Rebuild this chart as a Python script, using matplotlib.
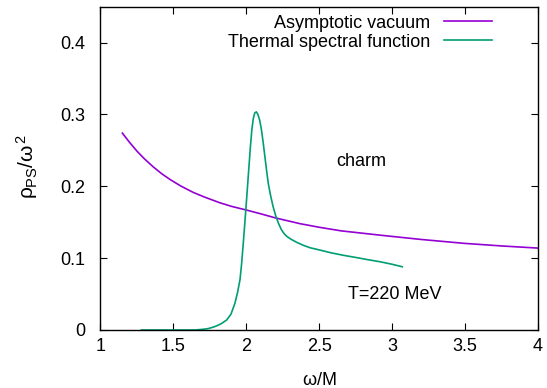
import matplotlib.pyplot as plt
import numpy as np

plt.rcParams['font.family'] = ['Liberation Sans', 'DejaVu Sans']
plt.rcParams['mathtext.fontset'] = 'custom'
plt.rcParams['mathtext.rm'] = 'Liberation Sans'
plt.rcParams['mathtext.it'] = 'Liberation Sans'

# asymptotic vacuum curve
vac_w = [1.15, 1.2, 1.25, 1.3, 1.362, 1.42, 1.477, 1.55, 1.636, 1.72, 1.82, 1.9, 2.0,
         2.094, 2.2, 2.368, 2.5, 2.65, 2.917, 3.2, 3.5, 3.75, 4.0]
vac_rho = [0.274, 0.261, 0.249, 0.2385, 0.227, 0.2175, 0.2095, 0.2005, 0.1915, 0.1845,
           0.177, 0.172, 0.167, 0.162, 0.156, 0.148, 0.143, 0.138, 0.132, 0.126, 0.1205,
           0.117, 0.114]

# thermal spectral function, T = 220 MeV
th_w = [1.28, 1.5, 1.65, 1.705, 1.74, 1.774, 1.80, 1.83, 1.866, 1.895, 1.922, 1.94,
        1.957, 1.968, 1.978, 1.988, 1.998, 2.008, 2.018, 2.028, 2.038, 2.048, 2.058,
        2.069, 2.08, 2.092, 2.104, 2.116, 2.128, 2.14, 2.151, 2.168, 2.185, 2.202,
        2.22, 2.24, 2.26, 2.28, 2.31, 2.346, 2.39, 2.437, 2.5, 2.58, 2.665, 2.75,
        2.83, 2.917, 3.0, 3.07]
th_rho = [0.0, 0.0, 0.0, 0.001, 0.002, 0.004, 0.006, 0.009, 0.014, 0.022, 0.037, 0.052,
          0.070, 0.092, 0.117, 0.143, 0.170, 0.198, 0.226, 0.254, 0.278, 0.294, 0.302,
          0.3036, 0.300, 0.292, 0.279, 0.261, 0.241, 0.221, 0.204, 0.186, 0.171, 0.159,
          0.149, 0.140, 0.134, 0.130, 0.126, 0.122, 0.118, 0.1145, 0.1115, 0.1075,
          0.104, 0.101, 0.098, 0.095, 0.0915, 0.088]

fig = plt.figure(figsize=(5.47, 3.88), dpi=100)
ax = fig.add_axes([0.1837, 0.1495, 0.7995, 0.8333])

ax.plot(vac_w, vac_rho, color='#9400d3', lw=1.2, label='Asymptotic vacuum')
ax.plot(th_w, th_rho, color='#009e73', lw=1.2, label='Thermal spectral function')

ax.set_xlim(1, 4)
ax.set_ylim(0, 0.45)
ax.set_xticks(np.arange(1, 4.01, 0.5))
ax.set_xticklabels(['1', '1.5', '2', '2.5', '3', '3.5', '4'])
ax.set_yticks([0, 0.1, 0.2, 0.3, 0.4])
ax.set_yticklabels(['0', '0.1', '0.2', '0.3', '0.4'])
ax.tick_params(direction='in', top=True, right=True, length=5, width=0.8,
               labelsize=13, colors='black')
ax.tick_params(axis='x', pad=6)
ax.tick_params(axis='y', pad=11)
for s in ax.spines.values():
    s.set_linewidth(1.0)

ax.set_xlabel(r'$\omega$/M', fontsize=13, va='top')
ax.xaxis.set_label_coords(0.5, -0.13)
ax.set_ylabel(r'$\rho_{\mathrm{PS}}/\omega^2$', fontsize=15, va='center')
ax.yaxis.set_label_coords(-0.168, 0.505)

ax.text(2.79, 0.235, 'charm', fontsize=13, ha='center', va='center')
ax.text(3.02, 0.050, 'T=220 MeV', fontsize=13, ha='center', va='center')

ax.legend(loc='upper right', frameon=False, markerfirst=False, fontsize=13,
          handlelength=2.67, handletextpad=0.75, labelspacing=0.1,
          borderpad=0, borderaxespad=0, bbox_to_anchor=(0.896, 0.975))

fig.savefig('out.png', dpi=100)
